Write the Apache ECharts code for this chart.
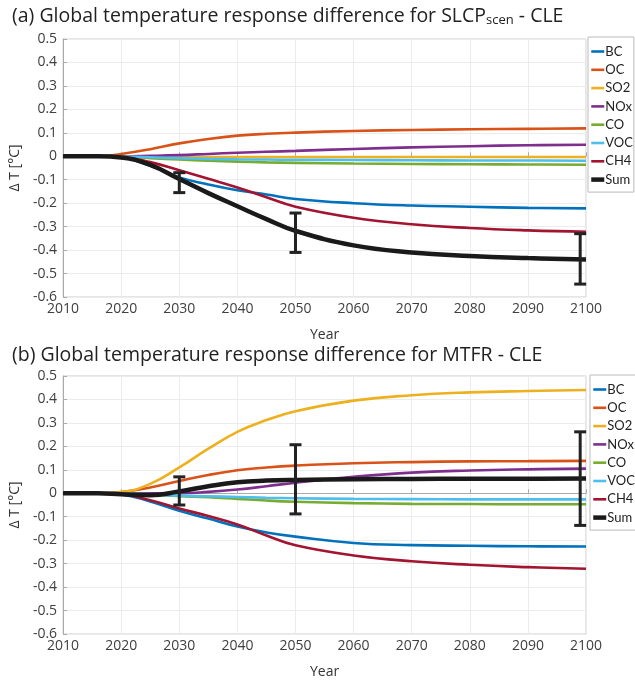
<!DOCTYPE html>
<html>
<head>
<meta charset="utf-8">
<script src="https://cdn.jsdelivr.net/npm/echarts@6/dist/echarts.min.js"></script>
<style>
html,body{margin:0;padding:0;background:#fff;}
#chart{width:635px;height:680px;}
</style>
</head>
<body>
<div id="chart"></div>
<script>
// ---------- data ----------
const years = [2010, 2016, 2020, 2025, 2030, 2035, 2040, 2045, 2050, 2060, 2070, 2080, 2090, 2100];
const seriesNames = ['BC', 'OC', 'SO2', 'NOx', 'CO', 'VOC', 'CH4', 'Sum'];

// Panel (a): SLCP_scen - CLE
const a_BC  = [0, 0, -0.005, -0.04, -0.09, -0.12, -0.145, -0.163, -0.182, -0.2, -0.21, -0.215, -0.22, -0.222];
const a_OC  = [0, 0, 0.01, 0.03, 0.055, 0.074, 0.088, 0.096, 0.101, 0.108, 0.112, 0.115, 0.117, 0.119];
const a_SO2 = [0, 0, 0, -0.002, -0.003, -0.003, -0.003, -0.003, -0.003, -0.003, -0.003, -0.003, -0.003, -0.003];
const a_NOx = [0, 0, 0, 0.002, 0.005, 0.01, 0.015, 0.019, 0.023, 0.031, 0.038, 0.043, 0.047, 0.049];
const a_CO  = [0, 0, -0.002, -0.008, -0.014, -0.019, -0.023, -0.026, -0.028, -0.031, -0.033, -0.034, -0.035, -0.036];
const a_VOC = [0, 0, -0.001, -0.004, -0.008, -0.011, -0.013, -0.014, -0.015, -0.016, -0.017, -0.018, -0.018, -0.019];
const a_CH4 = [0, 0, -0.003, -0.025, -0.06, -0.096, -0.133, -0.175, -0.215, -0.262, -0.29, -0.306, -0.316, -0.322];
const a_Sum = [0, 0, -0.005, -0.037, -0.097, -0.157, -0.213, -0.268, -0.318, -0.38, -0.41, -0.425, -0.434, -0.44];
const a_err = [[2030, -0.155, -0.07], [2050, -0.41, -0.242], [2099, -0.545, -0.33]];

// Panel (b): MTFR - CLE
const b_BC  = [0, 0, -0.005, -0.035, -0.075, -0.108, -0.142, -0.167, -0.185, -0.212, -0.221, -0.224, -0.226, -0.227];
const b_OC  = [0, 0, 0.005, 0.025, 0.052, 0.078, 0.098, 0.11, 0.118, 0.128, 0.133, 0.136, 0.137, 0.138];
const b_SO2 = [0, 0, 0.005, 0.04, 0.11, 0.19, 0.262, 0.312, 0.35, 0.395, 0.418, 0.43, 0.436, 0.44];
const b_NOx = [0, 0, 0, 0, 0.0, 0.006, 0.016, 0.03, 0.045, 0.07, 0.088, 0.097, 0.102, 0.105];
const b_CO  = [0, 0, -0.002, -0.006, -0.012, -0.017, -0.024, -0.031, -0.036, -0.042, -0.045, -0.046, -0.047, -0.047];
const b_VOC = [0, 0, -0.001, -0.004, -0.01, -0.013, -0.016, -0.019, -0.021, -0.024, -0.025, -0.026, -0.026, -0.026];
const b_CH4 = [0, 0, -0.004, -0.03, -0.065, -0.097, -0.133, -0.18, -0.222, -0.265, -0.29, -0.305, -0.315, -0.322];
const b_Sum = [0, 0, -0.004, -0.008, 0.008, 0.03, 0.047, 0.054, 0.057, 0.06, 0.061, 0.062, 0.062, 0.063];
const b_err = [[2030, -0.05, 0.07], [2050, -0.088, 0.207], [2099, -0.137, 0.262]];

const yTicks = [-0.6, -0.5, -0.4, -0.3, -0.2, -0.1, 0, 0.1, 0.2, 0.3, 0.4, 0.5];
const xTicks = [2010, 2020, 2030, 2040, 2050, 2060, 2070, 2080, 2090, 2100];

// ---------- styles ----------
const FONT = 'Open Sans';
const colors = {BC:'#0072BD', OC:'#D95319', SO2:'#EDB120', NOx:'#7E2F8E', CO:'#77AC30', VOC:'#4DBEEE', CH4:'#A2142F', Sum:'#1a1a1a'};
const panelA = {BC:a_BC, OC:a_OC, SO2:a_SO2, NOx:a_NOx, CO:a_CO, VOC:a_VOC, CH4:a_CH4, Sum:a_Sum};
const panelB = {BC:b_BC, OC:b_OC, SO2:b_SO2, NOx:b_NOx, CO:b_CO, VOC:b_VOC, CH4:b_CH4, Sum:b_Sum};

function pairs(vals){ return years.map((y,i)=>[y, vals[i]]); }

function xAxisDef(idx){
  return {
    type:'value', gridIndex:idx, min:xTicks[0], max:xTicks[xTicks.length-1], interval:10,
    name:'Year', nameLocation:'middle', nameGap:31,
    nameTextStyle:{fontFamily:FONT, fontSize:14, color:'#333'},
    axisLine:{show:true, lineStyle:{color:'#aaa'}},
    axisTick:{show:true, inside:true, length:4, lineStyle:{color:'#aaa'}},
    axisLabel:{fontFamily:FONT, fontSize:14, color:'#404040', margin:5, formatter:v=>String(v)},
    splitLine:{show:true, lineStyle:{color:'#ececec'}}
  };
}
function yAxisDef(idx){
  return {
    type:'value', gridIndex:idx, min:yTicks[0], max:yTicks[yTicks.length-1], interval:0.1,
    name:'Δ T [°C]', nameLocation:'middle', nameGap:37, nameRotate:90,
    nameTextStyle:{fontFamily:FONT, fontSize:14, color:'#333'},
    axisLine:{show:true, lineStyle:{color:'#aaa'}},
    axisTick:{show:true, inside:true, length:4, lineStyle:{color:'#aaa'}},
    axisLabel:{fontFamily:FONT, fontSize:14, color:'#404040', margin:6,
      formatter:v=>{ const r=Math.round(v*10)/10; return r===0?'0':String(r); }},
    splitLine:{show:true, lineStyle:{color:'#ececec'}}
  };
}

const series = [];
[panelA, panelB].forEach((panel, gi)=>{
  seriesNames.forEach(n=>{
    series.push({
      name:n, type:'line', xAxisIndex:gi, yAxisIndex:gi,
      data:pairs(panel[n]), smooth:0.45, symbol:'none', showSymbol:false,
      lineStyle:{color:colors[n], width:n==='Sum'?4.5:2.6},
      itemStyle:{color:colors[n]}, z:n==='Sum'?3:2, animation:false
    });
  });
  series.push({
    name:'err'+gi, type:'custom', xAxisIndex:gi, yAxisIndex:gi,
    data: gi===0 ? a_err : b_err, z:5, animation:false,
    renderItem:(params, api)=>{
      const x=api.value(0), lo=api.value(1), hi=api.value(2);
      const p1=api.coord([x, lo]), p2=api.coord([x, hi]);
      const w=6, st={stroke:'#222', lineWidth:3};
      return {type:'group', children:[
        {type:'line', shape:{x1:p1[0], y1:p1[1], x2:p2[0], y2:p2[1]}, style:st},
        {type:'line', shape:{x1:p1[0]-w, y1:p1[1], x2:p1[0]+w, y2:p1[1]}, style:st},
        {type:'line', shape:{x1:p2[0]-w, y1:p2[1], x2:p2[0]+w, y2:p2[1]}, style:st}
      ]};
    }
  });
});

function legendDef(top, left){
  return {
    orient:'vertical', left:left, top:top,
    data:seriesNames.map(n=>({name:n, itemStyle:{opacity:0}, lineStyle:{color:colors[n], width:n==='Sum'?4.5:2.6}})),
    itemWidth:13, itemHeight:12, itemGap:5.3,
    padding:[8,1,6,1], borderColor:'#bbb', borderWidth:1, backgroundColor:'#fff',
    textStyle:{fontFamily:'Lato', fontSize:13, color:'#222', padding:[0,0,0,-4]},
    selectedMode:false
  };
}

const option = {
  backgroundColor:'#fff',
  animation:false,
  title:[
    {text:'(a) Global temperature response difference for SLCP{sub|scen} - CLE', left:7, top:0,
     textStyle:{fontFamily:FONT, fontSize:19.5, fontWeight:'normal', color:'#222',
       rich:{sub:{fontFamily:FONT, fontSize:13, color:'#222', padding:[9,0,0,0]}}}},
    {text:'(b) Global temperature response difference for MTFR - CLE', left:7, top:340,
     textStyle:{fontFamily:FONT, fontSize:19.5, fontWeight:'normal', color:'#222'}}
  ],
  grid:[
    {left:54, top:39, width:532, height:258, show:true, borderColor:'#ccc', borderWidth:1, backgroundColor:'transparent'},
    {left:54, top:376, width:532, height:259, show:true, borderColor:'#ccc', borderWidth:1, backgroundColor:'transparent'}
  ],
  xAxis:[xAxisDef(0), xAxisDef(1)],
  yAxis:[yAxisDef(0), yAxisDef(1)],
  legend:[legendDef(37, 588), legendDef(375, 590)],
  series:series
};

const chart = echarts.init(document.getElementById('chart'), null, {renderer:'canvas'});
chart.setOption(option);
</script>
</body>
</html>
